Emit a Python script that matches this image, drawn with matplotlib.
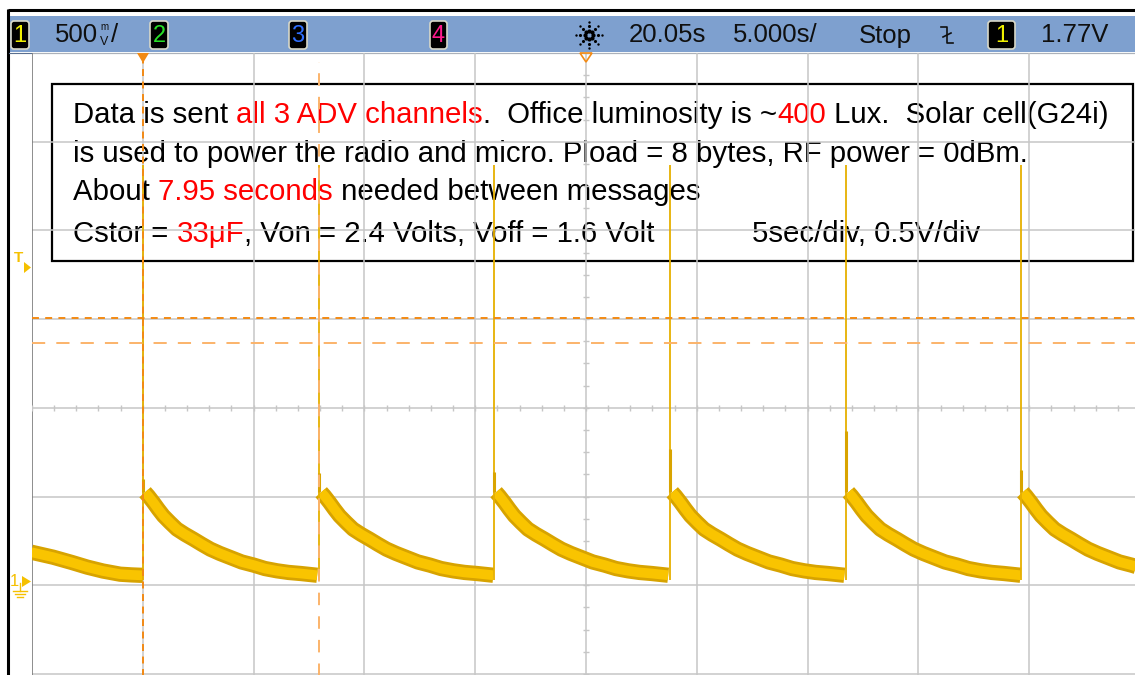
import numpy as np
import matplotlib.pyplot as plt
from matplotlib.patches import Rectangle, FancyBboxPatch, Polygon

plt.rcParams['lines.scale_dashes'] = False
plt.rcParams['font.family'] = ['Liberation Sans', 'DejaVu Sans']

# ---- data (time in s, voltage in V) ----
spike_times = [0.0, 7.95, 15.84, 23.79, 31.74, 39.61]
spike_peak_v = [2.37, 2.37, 2.37, 2.37, 2.37, 2.37]
spike_step_v = [0.60, 0.63, 0.64, 0.77, 0.87, 0.65]

# trace before the first message
pre_t = [-5.03, -4.05, -3.2, -2.51, -1.8, -1.02, -0.5, -0.12, 0.0]
pre_v = [0.186, 0.158, 0.128, 0.102, 0.080, 0.062, 0.058, 0.056, 0.056]

# recharge curve after each message (s after spike, V)
decay_dt = [0.10, 0.25, 0.48, 0.70, 0.93, 1.23, 1.54, 1.90, 2.29, 2.66, 3.05,
            3.48, 3.95, 4.46, 5.01, 5.51, 6.06, 6.57, 7.12, 7.87]
decay_v = [0.524, 0.503, 0.466, 0.428, 0.391, 0.353, 0.316, 0.287, 0.259, 0.231, 0.203,
           0.179, 0.156, 0.131, 0.113, 0.094, 0.081, 0.072, 0.066, 0.056]

cursor_x = [0.0, 7.95]
cursor_y = [1.505, 1.364]

W, H = 1135, 675
fig = plt.figure(figsize=(W / 100, H / 100), dpi=100)

# pixel-space layer for the scope frame / header
bg = fig.add_axes([0, 0, 1, 1], zorder=0)
bg.set_xlim(0, W)
bg.set_ylim(H, 0)
bg.axis('off')

# scope screen: 10 x 8 divisions, 5 s/div, 0.5 V/div
ax = fig.add_axes([32 / W, (H - 762.6) / H, 1108 / W, 709.6 / H], zorder=1)
ax.set_xlim(-5, 45)
ax.set_ylim(-1, 3)
ax.patch.set_alpha(0)
ax.axis('off')

fg = fig.add_axes([0, 0, 1, 1], zorder=3)
fg.set_xlim(0, W)
fg.set_ylim(H, 0)
fg.axis('off')
fg.patch.set_alpha(0)

# ---- frame + header bar ----
bg.plot([8, W], [10, 10], color='black', lw=2.2, solid_capstyle='butt')
bg.plot([8, 8], [9, H], color='black', lw=2.2, solid_capstyle='butt')
bg.add_patch(Rectangle((9, 16), W - 9, 36, color='#7ea0cf', lw=0))
bg.plot([9, W], [52.5, 52.5], color='#5a6f90', lw=0.8)

hdr = dict(fontsize=18.5, va='center', ha='left', color='#101010')

def chan_box(x0, x1, label, col):
    bg.add_patch(FancyBboxPatch((x0, 21), x1 - x0, 28,
                                boxstyle='round,pad=0,rounding_size=3',
                                fc='black', ec='#d8d8c8', lw=1.2))
    bg.text((x0 + x1) / 2, 35.5, label, color=col, fontsize=17,
            ha='center', va='center')

chan_box(11, 29, '1', '#f0f000')
chan_box(150, 168, '2', '#28e028')
chan_box(289, 307, '3', '#3070ff')
chan_box(430, 447, '4', '#ff1a8c')
chan_box(988, 1015, '1', '#f0f000')

bg.text(55, 35.5, '500', **hdr)
bg.text(104, 27.5, 'm', fontsize=7, ha='center', va='center', color='#101010')
bg.text(104, 42, 'V', fontsize=9, ha='center', va='center', color='#101010')
bg.text(111, 35.5, '/', **hdr)
bg.text(629, 35.5, '20.05s', **hdr)
bg.text(733, 35.5, '5.000s/', **hdr)
bg.text(859, 35.5, 'Stop', **hdr)
bg.text(1041, 35.5, '1.77V', **hdr)

# acquisition star icon
ang = np.deg2rad(np.arange(0, 360, 45))
for r, s in [(4, 9), (9, 5), (13, 3)]:
    bg.scatter(589 + r * np.cos(ang), 35 + r * np.sin(ang), s=s, color='black', lw=0)

# trigger edge icon
bg.plot([941, 947, 947, 953], [27, 27, 43, 43], color='#101010', lw=1.2)
bg.plot([943, 951], [37, 33], color='#101010', lw=1.2)

# trigger level + ground markers on the left
ycol = '#f5c000'
bg.text(19, 258, 'T', color=ycol, fontsize=11, ha='center', va='center', fontweight='bold')
bg.add_patch(Polygon([[24, 262], [24, 273], [31, 267.5]], color=ycol, lw=0))
bg.text(14, 581, '1', color=ycol, fontsize=12, ha='center', va='center')
bg.add_patch(Polygon([[22, 576], [22, 587], [31, 581.5]], color=ycol, lw=0))
bg.plot([20, 20], [583, 591], color=ycol, lw=1)
for w, yy in [(7, 591), (5, 594), (3, 597)]:
    bg.plot([20 - w, 20 + w], [yy, yy], color=ycol, lw=1)

# ---- annotation box ----
bg.add_patch(Rectangle((52, 84), 1081, 177, fill=False, ec='black', lw=1.6))

tf = dict(fontsize=21.2)

def colored_line(x, y, parts):
    t = bg.text(x, y, parts[0][0], color=parts[0][1], va='baseline', **tf)
    for s, c in parts[1:]:
        t = bg.annotate(s, xy=(1, 0), xycoords=t, va='bottom', color=c, **tf)

K, R = 'black', '#ff0000'
colored_line(73, 122.7, [('Data is sent ', K), ('all 3 ADV channels', R),
                         ('.  Office luminosity is ~', K), ('400', R),
                         (' Lux.  Solar cell(G24i)', K)])
colored_line(73, 161.5, [('is used to power the radio and micro. Pload = 8 bytes, RF power = 0dBm.', K)])
colored_line(73, 199.7, [('About ', K), ('7.95 seconds', R), (' needed between messages', K)])
colored_line(73, 242, [('Cstor = ', K), ('33\u03bcF', R), (', Von = 2.4 Volts, Voff = 1.6 Volt', K)])
bg.text(752, 242, '5sec/div, 0.5V/div', va='baseline', color=K, **tf)

# ---- graticule ----
gcol = '#c6c6c6'
for gx in np.arange(0, 46, 5):
    ax.axvline(gx, color=gcol, lw=1.1, zorder=1)
for gy in np.arange(-1, 3.01, 0.5):
    ax.axhline(gy, color=gcol, lw=1.1, zorder=1)
ax.axvline(-5, color='#7a7a7a', lw=1.2, zorder=1)
tx = np.arange(-5, 45.01, 1)
ax.plot(tx, np.full_like(tx, 1.0), ls='none', marker='|', ms=4, mew=1, color=gcol, zorder=1)
ty = np.arange(-1, 3.01, 0.125)
ax.plot(np.full_like(ty, 20.0), ty, ls='none', marker='_', ms=4, mew=1, color=gcol, zorder=1)

# ---- trace ----
band_out, band_in = '#d7a300', '#f9c400'
segments = [(pre_t, pre_v)]
for ts in spike_times:
    segments.append(([ts + d for d in decay_dt], decay_v))
for st, sv in segments:
    ax.plot(st, sv, color=band_out, lw=11, solid_capstyle='butt', solid_joinstyle='round', zorder=3)
    ax.plot(st, sv, color=band_in, lw=7, solid_capstyle='butt', solid_joinstyle='round', zorder=4)
ax.vlines(spike_times, 0.03, spike_peak_v, color='#e6b000', lw=1.3, zorder=5)
ax.vlines(spike_times, decay_v[0], spike_step_v, color='#d9a400', lw=2.2, zorder=5)

# ---- cursors ----
ax.axvline(cursor_x[0], color='#f28a14', lw=1.4, ls=(0, (5, 4)), zorder=6)
ax.vlines(cursor_x[1], -1, 2.95, color='#fbb36a', lw=1.4, ls=(0, (9, 8)), zorder=6)
ax.axhline(cursor_y[0], color='#f28a14', lw=1.4, ls=(0, (5, 4.5)), zorder=6)
ax.axhline(cursor_y[1], color='#fbb36a', lw=1.4, ls=(0, (9.5, 8)), zorder=6)

# time markers on top edge
fg.add_patch(Polygon([[137, 53], [149, 53], [143, 63]], color='#f28a14', lw=0))
fg.add_patch(Polygon([[580, 53], [592, 53], [586, 62]], fill=False, ec='#f28a14', lw=1.2))

fig.savefig('out.png', dpi=100)
